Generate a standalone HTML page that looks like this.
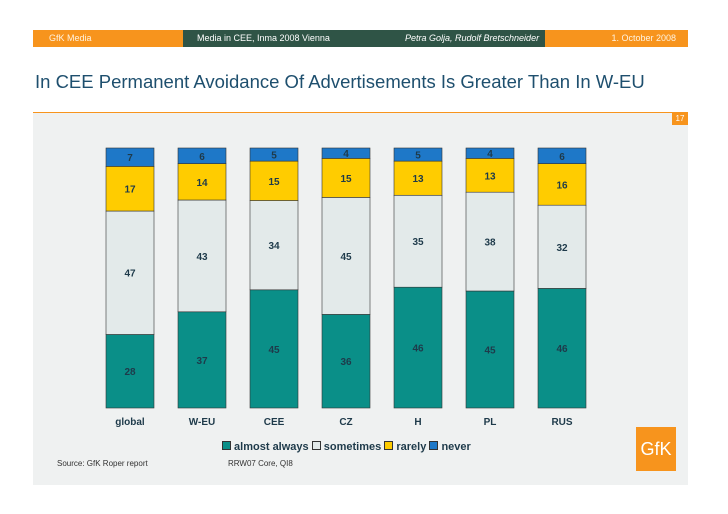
<!DOCTYPE html>
<html><head><meta charset="utf-8"><style>
body{margin:0;width:728px;height:514px;background:#fff;font-family:"Liberation Sans","DejaVu Sans",sans-serif;position:relative;overflow:hidden}
.a{position:absolute}
</style></head><body>
<div class="a" style="left:33px;top:30px;width:150px;height:17px;background:#f7941d;font-size:9px;line-height:17px;text-indent:16px;color:#fff3e0">GfK Media</div>
<div class="a" style="left:183px;top:30px;width:362px;height:17px;background:#2f5446;color:#fff;font-size:9px;line-height:17px"><span style="margin-left:14px">Media in CEE, Inma 2008 Vienna</span><span style="position:absolute;left:222px;font-style:italic">Petra Golja, Rudolf Bretschneider</span></div>
<div class="a" style="left:545px;top:30px;width:143px;height:17px;background:#f7941d;color:#fff3e0;font-size:9px;line-height:17px;text-align:right;box-sizing:border-box;padding-right:12px">1. October 2008</div>
<div class="a" style="left:35px;top:71px;font-size:18.5px;color:#1e4f6e;white-space:nowrap">In CEE Permanent Avoidance Of Advertisements Is Greater Than In W-EU</div>
<div class="a" style="left:33px;top:112px;width:655px;height:372px;background:#eff1f1;border-top:1px solid #f7941d"></div>
<div class="a" style="left:672px;top:113px;width:16px;height:12px;background:#f7941d;color:#fff;font-size:8px;line-height:12px;text-align:center">17</div>
<svg class="a" style="left:0;top:0" width="728" height="514" id="chart"></svg>
<div class="a" style="left:222px;top:441px;font-size:11px;font-weight:bold;color:#1e3a4a;white-space:nowrap">
<span style="display:inline-block;width:7px;height:7px;background:#0a8f88;border:1px solid #333"></span> almost always <span style="display:inline-block;width:7px;height:7px;background:#e3eaea;border:1px solid #333"></span> sometimes <span style="display:inline-block;width:7px;height:7px;background:#ffcc00;border:1px solid #333"></span> rarely <span style="display:inline-block;width:7px;height:7px;background:#1e78c8;border:1px solid #333"></span> never</div>
<div class="a" style="left:57px;top:459px;font-size:8px;color:#333">Source: GfK Roper report</div>
<div class="a" style="left:228px;top:459px;font-size:8px;color:#333">RRW07 Core, QI8</div>
<div class="a" style="left:636px;top:427px;width:40px;height:44px;background:#f7941d;color:#fff;font-size:18px;line-height:44px;text-align:center">GfK</div>
<script>
const categories=["global","W-EU","CEE","CZ","H","PL","RUS"];
const almostAlways=[28,37,45,36,46,45,46];
const sometimes=[47,43,34,45,35,38,32];
const rarely=[17,14,15,15,13,13,16];
const never=[7,6,5,4,5,4,6];
const series=[almostAlways,sometimes,rarely,never];
const colors=["#0a8f88","#e3eaea","#ffcc00","#1e78c8"];
const svg=document.getElementById('chart');
const NS="http://www.w3.org/2000/svg";
const y0=408,h=260,x0=106,pitch=72,bw=48;
const xPos=i=>x0+i*pitch;
categories.forEach((c,i)=>{
  const tot=series.reduce((s,a)=>s+a[i],0);
  let acc=0;
  series.forEach((arr,k)=>{
    const v=arr[i];
    const yb=y0-acc/tot*h, yt=y0-(acc+v)/tot*h;
    const r=document.createElementNS(NS,'rect');
    r.setAttribute('x',xPos(i));r.setAttribute('y',yt);r.setAttribute('width',bw);r.setAttribute('height',yb-yt);
    r.setAttribute('fill',colors[k]);r.setAttribute('stroke','#333');r.setAttribute('stroke-width','0.6');
    
    
    svg.appendChild(r);
    const t=document.createElementNS(NS,'text');
    t.setAttribute('x',xPos(i)+bw/2);t.setAttribute('y',(yb+yt)/2+4);t.setAttribute('text-anchor','middle');
    t.setAttribute('font-size','10');t.setAttribute('font-weight','bold');t.setAttribute('fill','#1e3a4a');
    t.textContent=v;
    
    
    svg.appendChild(t);
    acc+=v;
  });
  const l=document.createElementNS(NS,'text');
  l.setAttribute('x',xPos(i)+bw/2);l.setAttribute('y',425);l.setAttribute('text-anchor','middle');
  l.setAttribute('font-size','10');l.setAttribute('font-weight','bold');l.setAttribute('fill','#1e3a4a');
  l.textContent=c;
  
  
  svg.appendChild(l);
});
</script>
</body></html>
